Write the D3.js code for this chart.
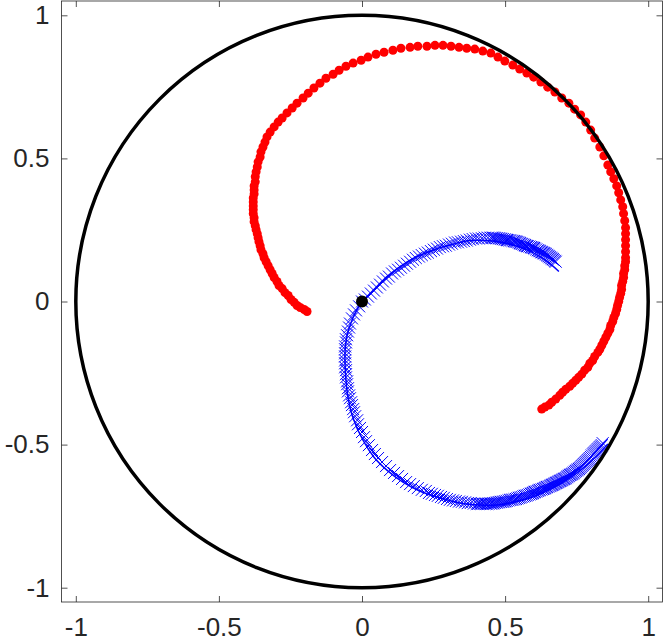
<!DOCTYPE html>
<html>
<head>
<meta charset="utf-8">
<script src="https://cdn.jsdelivr.net/npm/d3@7"></script>
<style>
  body { margin: 0; background: #fff; }
  svg { display: block; }
</style>
</head>
<body>
<div id="chart"></div>
<script>
//********** data **********//
var tickValues = [-1, -0.5, 0, 0.5, 1];
var tickLabels = ["-1", "-0.5", "0", "0.5", "1"];
var axisDomain = [-1.05, 1.05];

// boundary circle (centre + radius) and the origin dot
var boundary = {cx: 0, cy: 0, r: 1};
var originDot = [[0, 0]];

// red trajectory (filled dots)
var redDots = [
  [-0.192,-0.035],[-0.202,-0.028],[-0.216,-0.021],[-0.227,-0.014],[-0.237,-0.003],[-0.248,0.007],[-0.258,0.021],[-0.269,0.031],
  [-0.279,0.045],[-0.290,0.056],[-0.297,0.070],[-0.307,0.084],[-0.314,0.098],[-0.321,0.111],[-0.328,0.125],[-0.335,0.139],
  [-0.342,0.153],[-0.346,0.167],[-0.353,0.181],[-0.356,0.195],[-0.360,0.209],[-0.363,0.223],[-0.366,0.237],[-0.370,0.251],
  [-0.373,0.265],[-0.377,0.279],[-0.377,0.293],[-0.380,0.307],[-0.380,0.321],
  [-0.380,0.334],[-0.380,0.348],[-0.380,0.362],[-0.377,0.376],[-0.377,0.390],[-0.377,0.404],[-0.373,0.418],[-0.373,0.436],
  [-0.370,0.453],[-0.366,0.470],[-0.363,0.488],[-0.356,0.505],[-0.353,0.523],[-0.346,0.540],[-0.339,0.557],[-0.332,0.575],
  [-0.321,0.592],[-0.307,0.610],[-0.293,0.627],[-0.279,0.641],[-0.262,0.659],[-0.244,0.676],[-0.227,0.693],[-0.206,0.711],
  [-0.188,0.728],[-0.168,0.746],[-0.147,0.763],[-0.126,0.780],[-0.101,0.794],[-0.080,0.808],[-0.056,0.822],[-0.031,0.833],
  [-0.003,0.843],[0.021,0.854],[0.049,0.864],[0.077,0.871],[0.108,0.878],[0.136,0.885],[0.168,0.888],[0.195,0.892],[0.227,0.892],
  [0.255,0.895],[0.283,0.895],[0.311,0.892],[0.339,0.888],[0.366,0.885],[0.394,0.882],[0.422,0.875],[0.450,0.868],
  [0.475,0.854],[0.499,0.840],[0.527,0.826],[0.551,0.812],[0.576,0.798],[0.600,0.784],[0.625,0.767],[0.649,0.749],
  [0.674,0.732],[0.698,0.711],[0.723,0.693],[0.743,0.672],[0.764,0.652],[0.782,0.627],[0.799,0.599],[0.813,0.571],
  [0.831,0.540],[0.845,0.509],[0.859,0.477],
  [0.869,0.453],[0.880,0.429],[0.890,0.404],[0.897,0.380],[0.904,0.355],[0.911,0.331],[0.914,0.307],[0.918,0.282],
  [0.921,0.258],[0.921,0.237],[0.921,0.216],[0.921,0.195],[0.921,0.174],[0.921,0.153],[0.921,0.139],[0.918,0.125],
  [0.918,0.111],[0.914,0.098],[0.914,0.084],[0.911,0.070],[0.907,0.056],[0.907,0.042],[0.904,0.028],[0.900,0.014],
  [0.897,0.000],[0.893,-0.014],[0.890,-0.028],[0.886,-0.042],[0.880,-0.056],[0.876,-0.070],[0.869,-0.084],[0.866,-0.098],
  [0.859,-0.111],[0.852,-0.125],[0.845,-0.139],[0.838,-0.153],[0.831,-0.167],[0.824,-0.178],[0.813,-0.192],[0.806,-0.206],
  [0.796,-0.216],[0.789,-0.230],[0.778,-0.240],[0.768,-0.254],[0.757,-0.265],[0.747,-0.275],[0.736,-0.286],[0.726,-0.296],
  [0.712,-0.307],[0.701,-0.317],[0.691,-0.328],[0.677,-0.341],[0.663,-0.352],[0.653,-0.362],[0.639,-0.369],[0.628,-0.376]
];

// blue trajectory (x markers); the two ends are packed much tighter
var blueCrosses = [
  [0.677,0.139],[0.674,0.142],[0.670,0.145],[0.667,0.148],[0.663,0.150],[0.660,0.153],[0.656,0.155],[0.653,0.158],
  [0.649,0.160],[0.646,0.163],[0.642,0.166],[0.639,0.168],[0.635,0.169],[0.632,0.171],[0.628,0.172],[0.625,0.174],
  [0.621,0.176],[0.618,0.178],[0.614,0.179],[0.609,0.182],[0.604,0.185],[0.601,0.187],[0.597,0.188],[0.594,0.189],
  [0.590,0.190],[0.585,0.192],[0.579,0.193],[0.576,0.194],[0.572,0.195],[0.569,0.197],[0.565,0.199],[0.560,0.201],
  [0.555,0.202],[0.552,0.204],[0.548,0.206],[0.543,0.208],[0.538,0.209],[0.535,0.210],[0.531,0.211],[0.526,0.212],
  [0.520,0.213],[0.515,0.214],[0.510,0.214],[0.507,0.215],[0.503,0.216],[0.498,0.217],[0.492,0.218],[0.487,0.219],
  [0.482,0.220],[0.477,0.221],[0.471,0.221],[0.466,0.222],[0.461,0.223],[0.456,0.223],[0.450,0.223],
  [0.440,0.223],[0.429,0.223],[0.419,0.221],[0.408,0.220],
  [0.398,0.220],[0.387,0.218],[0.377,0.216],[0.366,0.213],[0.356,0.211],[0.346,0.209],[0.335,0.207],[0.325,0.206],
  [0.314,0.202],[0.304,0.199],[0.293,0.195],[0.283,0.193],[0.272,0.190],[0.262,0.185],[0.251,0.181],[0.241,0.176],
  [0.230,0.171],[0.220,0.167],[0.209,0.162],[0.199,0.157],[0.188,0.152],[0.178,0.146],[0.168,0.139],[0.157,0.132],
  [0.147,0.125],[0.136,0.118],[0.126,0.111],[0.115,0.105],[0.105,0.098],[0.094,0.087],[0.084,0.080],[0.073,0.070],
  [0.063,0.059],[0.052,0.049],[0.042,0.038],[0.031,0.028],[0.021,0.017],[0.010,0.007],[0.000,0.000],
  [-0.010,-0.017],[-0.021,-0.031],[-0.028,-0.045],[-0.035,-0.059],[-0.042,-0.077],[-0.045,-0.091],[-0.049,-0.105],
  [-0.052,-0.118],[-0.056,-0.132],[-0.056,-0.143],[-0.059,-0.157],[-0.059,-0.167],[-0.059,-0.181],[-0.059,-0.192],
  [-0.059,-0.206],[-0.059,-0.216],[-0.059,-0.230],[-0.056,-0.240],[-0.056,-0.254],[-0.056,-0.265],[-0.052,-0.279],
  [-0.052,-0.289],[-0.049,-0.303],[-0.049,-0.314],[-0.045,-0.328],[-0.042,-0.338],[-0.038,-0.352],[-0.035,-0.362],
  [-0.031,-0.376],[-0.028,-0.387],[-0.024,-0.401],[-0.017,-0.415],[-0.014,-0.429],[-0.007,-0.442],[0.000,-0.456],
  [0.007,-0.474],[0.014,-0.488],[0.024,-0.502],[0.035,-0.519],[0.045,-0.533],[0.056,-0.547],[0.070,-0.561],
  [0.084,-0.575],[0.098,-0.589],[0.112,-0.599],[0.126,-0.610],[0.140,-0.620],[0.154,-0.631],[0.168,-0.638],
  [0.181,-0.645],[0.195,-0.652],[0.209,-0.658],[0.223,-0.662],[0.234,-0.669],[0.244,-0.672],[0.255,-0.676],
  [0.265,-0.679],[0.276,-0.683],[0.286,-0.686],[0.297,-0.690],[0.307,-0.693],[0.318,-0.695],[0.328,-0.697],
  [0.339,-0.699],[0.349,-0.700],[0.360,-0.702],[0.370,-0.704],[0.380,-0.704],[0.391,-0.706],[0.401,-0.707],
  [0.406,-0.707],[0.412,-0.707],[0.417,-0.707],[0.422,-0.707],[0.428,-0.707],[0.433,-0.707],[0.438,-0.707],
  [0.443,-0.706],[0.449,-0.706],[0.454,-0.706],[0.459,-0.705],[0.464,-0.704],[0.470,-0.703],[0.475,-0.702],
  [0.480,-0.701],[0.485,-0.700],[0.491,-0.700],[0.496,-0.699],[0.501,-0.698],[0.506,-0.697],[0.512,-0.695],
  [0.517,-0.693],[0.522,-0.693],[0.527,-0.692],[0.533,-0.691],[0.538,-0.690],[0.543,-0.688],[0.548,-0.686],
  [0.553,-0.685],[0.558,-0.683],[0.564,-0.681],[0.569,-0.679],[0.574,-0.678],[0.579,-0.676],[0.585,-0.674],
  [0.590,-0.672],[0.594,-0.671],[0.597,-0.669],[0.601,-0.667],[0.604,-0.665],[0.609,-0.664],[0.614,-0.662],
  [0.618,-0.660],[0.621,-0.658],[0.627,-0.657],[0.632,-0.655],[0.636,-0.654],[0.639,-0.652],[0.643,-0.650],
  [0.646,-0.648],[0.651,-0.647],[0.656,-0.645],[0.660,-0.643],[0.663,-0.641],[0.667,-0.640],[0.670,-0.638],
  [0.674,-0.636],[0.677,-0.634],[0.681,-0.633],[0.684,-0.631],[0.688,-0.629],[0.691,-0.627],[0.695,-0.626],
  [0.698,-0.624],[0.702,-0.622],[0.705,-0.620],[0.709,-0.619],[0.712,-0.617],[0.716,-0.614],[0.719,-0.611],
  [0.723,-0.609],[0.726,-0.606],[0.730,-0.605],[0.733,-0.603],[0.737,-0.601],[0.740,-0.598],[0.744,-0.595],
  [0.747,-0.592],[0.751,-0.590],[0.754,-0.587],[0.758,-0.585],[0.761,-0.582],[0.765,-0.579],[0.768,-0.575],
  [0.772,-0.572],[0.775,-0.568],[0.779,-0.565],[0.782,-0.561],[0.786,-0.558],[0.789,-0.554],[0.793,-0.551],
  [0.796,-0.547],[0.800,-0.543],[0.803,-0.538],[0.807,-0.534],[0.810,-0.530],[0.814,-0.527],[0.817,-0.523],
  [0.821,-0.520],[0.824,-0.516],[0.828,-0.513],[0.831,-0.509],[0.835,-0.506],[0.838,-0.502],[0.841,-0.495]
];

// blue solid line that runs with the markers
var blueLine = [
  [0.688,0.105],[0.639,0.146],[0.597,0.171],[0.544,0.192],[0.492,0.206],[0.436,0.213],[0.377,0.213],[0.325,0.202],
  [0.272,0.188],[0.227,0.171],[0.178,0.150],[0.133,0.122],[0.087,0.087],[0.045,0.045],[0.021,0.021],[0.000,0.000],
  [-0.021,-0.035],[-0.038,-0.073],[-0.052,-0.118],[-0.059,-0.171],[-0.059,-0.223],[-0.056,-0.275],[-0.049,-0.334],
  [-0.031,-0.408],[0.003,-0.484],[0.042,-0.544],[0.087,-0.589],[0.143,-0.631],[0.202,-0.662],[0.272,-0.686],
  [0.342,-0.704],[0.412,-0.711],[0.471,-0.711],[0.534,-0.700],[0.597,-0.683],[0.667,-0.652],[0.726,-0.617],
  [0.778,-0.578],[0.820,-0.540],[0.859,-0.498]
];

//********** layout **********//
var width = 665, height = 644;
var margin = {top: 1, left: 61.5};
var plotW = 601, plotH = 601;

var svg = d3.select('#chart').append('svg')
    .attr('width', width)
    .attr('height', height);

var g = svg.append('g')
    .attr('transform', 'translate(' + margin.left + ',' + margin.top + ')');

var x = d3.scaleLinear().domain(axisDomain).range([0, plotW]);
var y = d3.scaleLinear().domain(axisDomain).range([plotH, 0]);

//********** axes (box with inward ticks on all sides) **********//
var fmt = function(d) { return tickLabels[tickValues.indexOf(d)]; };
var axisColor = '#262626';

function styleAxis(sel, showText) {
  sel.select('.domain').remove();
  sel.selectAll('.tick line').attr('stroke', axisColor).attr('stroke-width', 0.8);
  sel.selectAll('.tick text')
     .attr('fill', axisColor)
     .style('font-family', '"Liberation Sans", Arial, sans-serif')
     .style('font-size', '26px');
  if (!showText) sel.selectAll('.tick text').remove();
}

g.append('g').attr('transform', 'translate(0,' + plotH + ')')
  .call(d3.axisBottom(x).tickValues(tickValues).tickFormat(fmt).tickSize(-6).tickPadding(16))
  .call(styleAxis, true);
g.append('g')
  .call(d3.axisTop(x).tickValues(tickValues).tickSize(-6))
  .call(styleAxis, false);
g.append('g')
  .call(d3.axisLeft(y).tickValues(tickValues).tickFormat(fmt).tickSize(-6).tickPadding(12))
  .call(styleAxis, true);
g.append('g').attr('transform', 'translate(' + plotW + ',0)')
  .call(d3.axisRight(y).tickValues(tickValues).tickSize(-6))
  .call(styleAxis, false);

g.append('rect')
  .attr('x', 0).attr('y', 0)
  .attr('width', plotW).attr('height', plotH)
  .attr('fill', 'none')
  .attr('stroke', axisColor)
  .attr('stroke-width', 0.8);

//********** marks **********//
// red dots
g.append('g').selectAll('circle')
  .data(redDots)
  .enter().append('circle')
    .attr('cx', function(d) { return x(d[0]); })
    .attr('cy', function(d) { return y(d[1]); })
    .attr('r', 4.5)
    .attr('fill', '#ff0000');

// blue line
var line = d3.line()
  .x(function(d) { return x(d[0]); })
  .y(function(d) { return y(d[1]); })
  .curve(d3.curveCatmullRom);

g.append('path')
  .datum(blueLine)
  .attr('d', line)
  .attr('fill', 'none')
  .attr('stroke', '#0000ff')
  .attr('stroke-width', 1.5);

// blue x markers
var s = 6;
g.append('g').selectAll('path')
  .data(blueCrosses)
  .enter().append('path')
    .attr('d', function(d) {
      var px = x(d[0]), py = y(d[1]);
      return 'M' + (px - s) + ',' + (py - s) + 'L' + (px + s) + ',' + (py + s) +
             'M' + (px - s) + ',' + (py + s) + 'L' + (px + s) + ',' + (py - s);
    })
    .attr('stroke', '#0000ff')
    .attr('stroke-width', 1)
    .attr('fill', 'none');

// boundary circle
g.append('ellipse')
  .attr('cx', x(boundary.cx))
  .attr('cy', y(boundary.cy))
  .attr('rx', x(boundary.r) - x(boundary.cx))
  .attr('ry', y(boundary.cy) - y(boundary.r))
  .attr('fill', 'none')
  .attr('stroke', '#000')
  .attr('stroke-width', 3.5);

// origin dot
g.append('g').selectAll('circle')
  .data(originDot)
  .enter().append('circle')
    .attr('cx', function(d) { return x(d[0]); })
    .attr('cy', function(d) { return y(d[1]); })
    .attr('r', 6)
    .attr('fill', '#000');
</script>
</body>
</html>
